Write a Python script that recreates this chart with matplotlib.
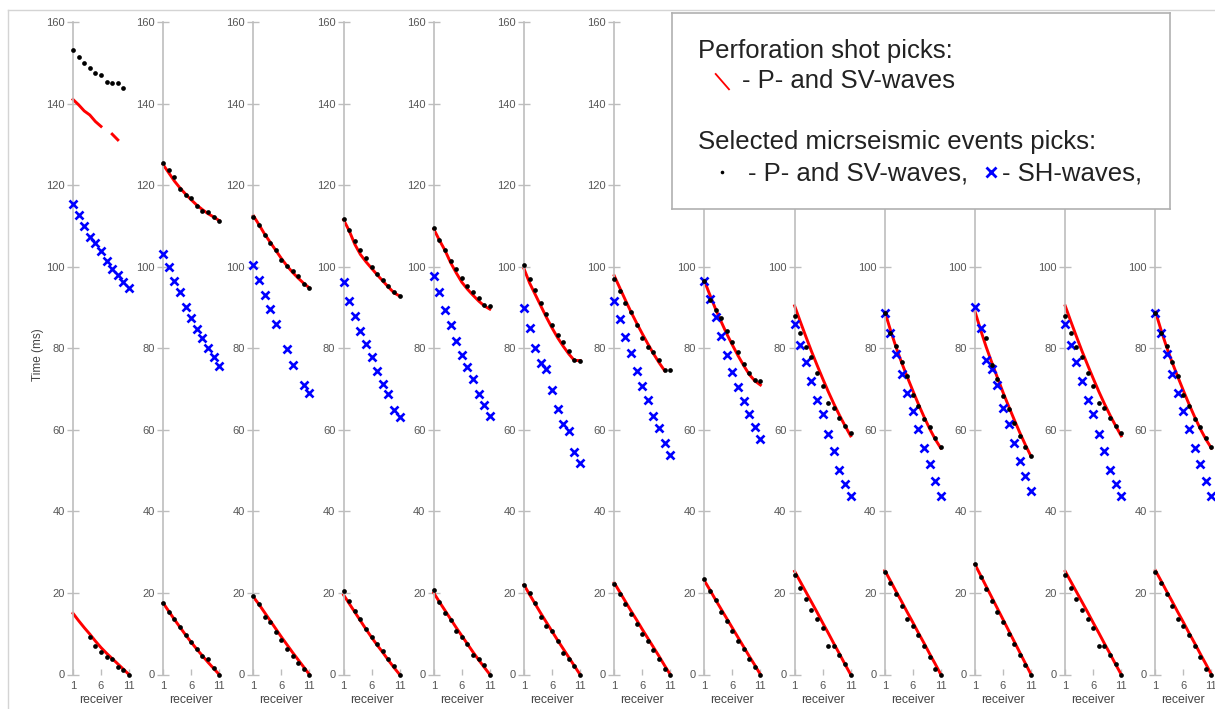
import numpy as np
import matplotlib
matplotlib.use("Agg")
import matplotlib.pyplot as plt
from matplotlib.lines import Line2D

plt.rcParams['font.family'] = ['Liberation Sans', 'DejaVu Sans']

nan = np.nan
receivers = np.arange(1, 12)
y_ticks = [0, 20, 40, 60, 80, 100, 120, 140, 160]
x_ticks = [1, 6, 11]

# perforation shot, P-wave picks (red, lower)
perf_p = [
    [15.0, 13.2, 11.5, 9.9, 8.2, 6.6, 5.2, 3.9, 2.6, 1.3, 0.0],
    [17.5, 15.5, 13.5, 11.6, 9.7, 7.9, 6.2, 4.6, 3.0, 1.5, 0.0],
    [19.0, 17.2, 15.2, 13.2, 11.2, 9.2, 7.3, 5.4, 3.6, 1.8, 0.0],
    [19.5, 17.4, 15.3, 13.2, 11.1, 9.1, 7.2, 5.4, 3.5, 1.7, 0.0],
    [20.0, 17.8, 15.7, 13.6, 11.5, 9.5, 7.5, 5.5, 3.6, 1.8, 0.0],
    [22.0, 19.6, 17.3, 15.0, 12.8, 10.6, 8.4, 6.3, 4.2, 2.1, 0.0],
    [22.5, 20.2, 17.9, 15.6, 13.4, 11.1, 8.9, 6.7, 4.5, 2.2, 0.0],
    [23.0, 20.7, 18.3, 16.0, 13.7, 11.4, 9.1, 6.8, 4.5, 2.3, 0.0],
    [25.3, 22.8, 20.3, 17.8, 15.3, 12.7, 10.2, 7.6, 5.1, 2.5, 0.0],
    [25.5, 23.0, 20.4, 17.9, 15.3, 12.8, 10.2, 7.7, 5.1, 2.6, 0.0],
    [27.0, 24.3, 21.6, 18.9, 16.2, 13.5, 10.8, 8.1, 5.4, 2.7, 0.0],
    [25.3, 22.8, 20.3, 17.8, 15.3, 12.7, 10.2, 7.6, 5.1, 2.5, 0.0],
    [25.5, 23.0, 20.4, 17.9, 15.3, 12.8, 10.2, 7.7, 5.1, 2.6, 0.0],
]

# perforation shot, SV-wave picks (red, upper)
perf_sv = [
    [141.0, 139.7, 138.2, 137.2, 135.6, 134.4, nan, 132.5, 131.1, nan, nan],
    [125.0, 123.0, 121.0, 119.3, 117.8, 116.4, 115.1, 114.0, 113.0, 112.2, 111.3],
    [112.5, 110.3, 108.0, 106.0, 104.0, 102.0, 100.2, 98.6, 97.2, 95.9, 94.8],
    [111.5, 108.8, 105.5, 103.0, 101.2, 99.6, 98.0, 96.5, 95.0, 93.6, 92.8],
    [109.2, 106.5, 104.0, 101.0, 98.5, 96.2, 94.5, 93.0, 91.6, 90.4, 89.6],
    [99.5, 96.0, 93.2, 90.4, 87.6, 85.0, 82.6, 80.5, 78.6, 77.0, 77.0],
    [97.8, 94.8, 91.8, 88.9, 86.2, 83.6, 81.1, 78.7, 76.5, 74.5, nan],
    [96.5, 93.0, 89.6, 86.5, 83.5, 80.8, 78.2, 75.8, 73.6, 72.0, 71.0],
    [90.4, 86.6, 82.9, 79.3, 75.9, 72.6, 69.4, 66.4, 63.6, 61.0, 58.5],
    [89.0, 84.5, 80.3, 76.5, 73.0, 69.6, 66.3, 63.2, 60.3, 57.7, 55.5],
    [89.0, 84.5, 80.3, 76.5, 72.8, 69.2, 65.8, 62.5, 59.3, 56.3, 53.5],
    [90.4, 86.6, 82.9, 79.3, 75.9, 72.6, 69.4, 66.4, 63.6, 61.0, 58.5],
    [89.0, 84.5, 80.3, 76.5, 73.0, 69.6, 66.3, 63.2, 60.3, 57.7, 55.5],
]

# microseismic event, P-wave picks (black dots, lower)
event_p = [
    [nan, nan, nan, 9.2, 6.9, 5.6, 4.4, 3.7, 1.9, 1.2, 0.0],
    [17.5, 15.4, 13.5, 11.6, 9.8, 8.0, 6.3, 4.6, 3.7, 1.7, 0.0],
    [19.2, 17.4, 14.0, 12.8, 10.4, 8.4, 6.2, 4.5, 2.7, 1.3, 0.0],
    [20.5, 18.0, 15.6, 13.6, 11.2, 9.1, 7.5, 5.7, 3.8, 2.0, 0.0],
    [20.8, 17.8, 15.2, 13.4, 10.7, 9.3, 7.5, 4.9, 3.8, 2.3, 0.0],
    [22.0, 19.9, 17.5, 14.2, 12.0, 10.6, 8.2, 5.2, 3.7, 2.1, 0.0],
    [22.3, 19.7, 17.2, 14.8, 12.5, 9.9, 8.1, 5.9, 3.9, 1.4, 0.0],
    [23.5, 20.5, 18.2, 15.4, 13.1, 10.6, 8.1, 6.2, 3.9, 1.9, 0.0],
    [24.3, 21.3, 18.6, 15.8, 13.6, 11.3, 7.1, 6.9, 4.7, 2.5, 0.0],
    [25.1, 22.4, 19.7, 16.8, 13.6, 12.0, 9.6, 6.9, 4.3, 1.3, 0.0],
    [27.0, 24.0, 21.0, 18.0, 15.3, 12.8, 10.0, 7.5, 4.9, 2.3, 0.0],
    [24.3, 21.3, 18.6, 15.8, 13.6, 11.3, 7.1, 6.9, 4.7, 2.5, 0.0],
    [25.1, 22.4, 19.7, 16.8, 13.6, 12.0, 9.6, 6.9, 4.3, 1.3, 0.0],
]

# microseismic event, SV-wave picks (black dots, upper)
event_sv = [
    [153.1, 151.4, 149.9, 148.6, 147.6, 147.1, 145.4, 145.0, 145.0, 143.8, nan],
    [125.4, 123.6, 122.1, 119.1, 117.6, 116.8, 115.0, 113.6, 113.4, 112.3, 111.3],
    [112.2, 110.2, 107.8, 105.8, 104.0, 101.7, 100.1, 99.0, 97.7, 95.8, 94.8],
    [111.8, 109.0, 106.3, 104.2, 102.2, 99.9, 98.2, 96.7, 95.3, 93.8, 92.8],
    [109.5, 106.6, 104.2, 101.5, 99.5, 97.3, 95.3, 93.8, 92.4, 90.6, 90.3],
    [100.5, 97.0, 94.3, 91.2, 88.3, 85.7, 83.3, 81.6, 79.4, 77.2, 76.9],
    [97.0, 94.1, 91.0, 88.9, 85.7, 82.4, 80.2, 79.2, 77.1, 74.6, 74.6],
    [96.4, 91.8, 89.3, 87.4, 84.3, 81.6, 79.2, 76.2, 74.0, 72.1, 72.0],
    [88.0, 83.7, 80.3, 77.9, 74.0, 70.8, 66.5, 65.3, 62.8, 60.9, 59.1],
    [88.6, 83.7, 80.6, 76.6, 73.1, 68.6, 65.8, 62.7, 60.8, 57.9, 55.8],
    [nan, nan, 82.5, 75.9, 72.5, 68.2, 65.1, 61.6, 58.6, 55.9, 53.6],
    [88.0, 83.7, 80.3, 77.9, 74.0, 70.8, 66.5, 65.3, 62.8, 60.9, 59.1],
    [88.6, 83.7, 80.6, 76.6, 73.1, 68.6, 65.8, 62.7, 60.8, 57.9, 55.8],
]

# microseismic event, SH-wave picks (blue crosses)
event_sh = [
    [115.4, 112.7, 110.0, 107.3, 105.8, 103.9, 101.5, 99.4, 98.0, 96.2, 94.8],
    [103.1, 99.9, 96.5, 93.9, 90.2, 87.5, 84.6, 82.4, 80.1, 77.8, 75.7],
    [100.3, 96.8, 93.0, 89.7, 86.0, nan, 79.8, 76.0, nan, 71.1, 69.0],
    [96.2, 91.7, 88.0, 84.3, 81.1, 77.9, 74.5, 71.3, 68.8, 64.9, 63.2],
    [97.8, 93.7, 89.4, 85.7, 81.9, 78.4, 75.3, 72.5, 68.8, 66.0, 63.3],
    [89.8, 84.9, 80.1, 76.5, 74.9, 69.8, 65.2, 61.4, 59.6, 54.5, 51.9],
    [91.6, 87.2, 82.8, 78.9, 74.3, 70.7, 67.2, 63.4, 60.5, 56.8, 53.8],
    [96.6, 92.1, 87.7, 83.1, 78.3, 74.1, 70.6, 67.1, 64.0, 60.8, 57.8],
    [86.0, 80.8, 76.6, 71.9, 67.3, 63.9, 58.9, 54.7, 50.2, 46.8, 43.7],
    [88.6, 83.7, 78.5, 73.6, 69.1, 64.7, 60.1, 55.6, 51.7, 47.4, 43.8],
    [90.2, 85.0, 77.0, 75.0, 70.9, 65.4, 61.4, 56.7, 52.3, 48.7, 44.9],
    [86.0, 80.8, 76.6, 71.9, 67.3, 63.9, 58.9, 54.7, 50.2, 46.8, 43.7],
    [88.6, 83.7, 78.5, 73.6, 69.1, 64.7, 60.1, 55.6, 51.7, 47.4, 43.8],
]

W, H = 1215, 709
fig = plt.figure(figsize=(W / 100, H / 100), dpi=100)

# light outer frame (cut by the image on the right and bottom)
fig.add_artist(Line2D([8 / W, 1], [1 - 10 / H, 1 - 10 / H], transform=fig.transFigure,
                      color='#d4d4d4', lw=1))
fig.add_artist(Line2D([8 / W, 8 / W], [0, 1 - 10 / H], transform=fig.transFigure,
                      color='#d4d4d4', lw=1))

# legend box geometry (pixels from top-left)
lx0, lx1, ly0, ly1 = 672, 1170, 13, 209

axis_grey = '#bdbdbd'
n_panels = len(perf_p)
for i in range(n_panels):
    x_px = 73 + i * 90.2
    ax = fig.add_axes([x_px / W, (H - 674.5) / H, 56 / W, 652.5 / H])
    ax.set_xlim(1, 11)
    ax.set_ylim(0, 160)
    ax.patch.set_visible(False)

    ax.plot(receivers, perf_p[i], color='red', lw=2.1, clip_on=False, zorder=2)
    ax.plot(receivers, perf_sv[i], color='red', lw=2.1, clip_on=False, zorder=2)
    ax.plot(receivers, event_sh[i], 'x', color='blue', ms=6.3, mew=1.9,
            clip_on=False, zorder=3)
    ax.plot(receivers, event_p[i], 'o', color='black', ms=3.4, mew=0,
            clip_on=False, zorder=4)
    ax.plot(receivers, event_sv[i], 'o', color='black', ms=3.4, mew=0,
            clip_on=False, zorder=4)

    for side in ['top', 'right', 'bottom']:
        ax.spines[side].set_visible(False)
    ax.spines['left'].set_color(axis_grey)
    ax.spines['left'].set_linewidth(1.2)

    ax.set_yticks(y_ticks)
    ax.set_xticks(x_ticks)
    ax.tick_params(axis='y', direction='inout', length=9, width=1, color=axis_grey,
                   labelsize=8, labelcolor='#555555', pad=1.5)
    ax.tick_params(axis='x', direction='in', length=4, width=1, color=axis_grey,
                   labelsize=8, labelcolor='#555555', pad=5)
    ax.set_xlabel('receiver', fontsize=8.8, color='#444444', labelpad=1.5)

    # labels hidden behind the legend box
    if x_px > lx0:
        for val, lab in zip(y_ticks, ax.get_yticklabels()):
            if val >= 120:
                lab.set_visible(False)

    if i == 0:
        ax.set_ylabel('Time (ms)', fontsize=8.5, color='#444444')
        ax.yaxis.set_label_coords(-0.52, 0.49)

# legend box drawn on top of the panels, in pixel-like coordinates
lax = fig.add_axes([lx0 / W, 1 - ly1 / H, (lx1 - lx0) / W, (ly1 - ly0) / H])
lax.set_zorder(10)
lax.set_xlim(lx0, lx1)
lax.set_ylim(ly1, ly0)
lax.set_xticks([])
lax.set_yticks([])
lax.set_facecolor('white')
for sp in lax.spines.values():
    sp.set_color('#b0b0b0')
    sp.set_linewidth(1.2)

txt = dict(fontsize=18.5, color='#222222', va='baseline', ha='left')
lax.text(698, 58.3, 'Perforation shot picks:', **txt)
lax.plot([715.7, 729], [74, 89.3], color='red', lw=1.3)
lax.text(741.7, 88.3, '- P- and SV-waves', **txt)
lax.text(698, 149.3, 'Selected micrseismic events picks:', **txt)
lax.plot([721.7], [172.3], 'o', color='black', ms=2.6, mew=0)
lax.text(748.3, 180, '- P- and SV-waves,', **txt)
lax.plot([991], [172.3], 'x', color='blue', ms=7, mew=2)
lax.text(1002.3, 180, '- SH-waves,', **txt)

fig.savefig('out.png', dpi=100)
